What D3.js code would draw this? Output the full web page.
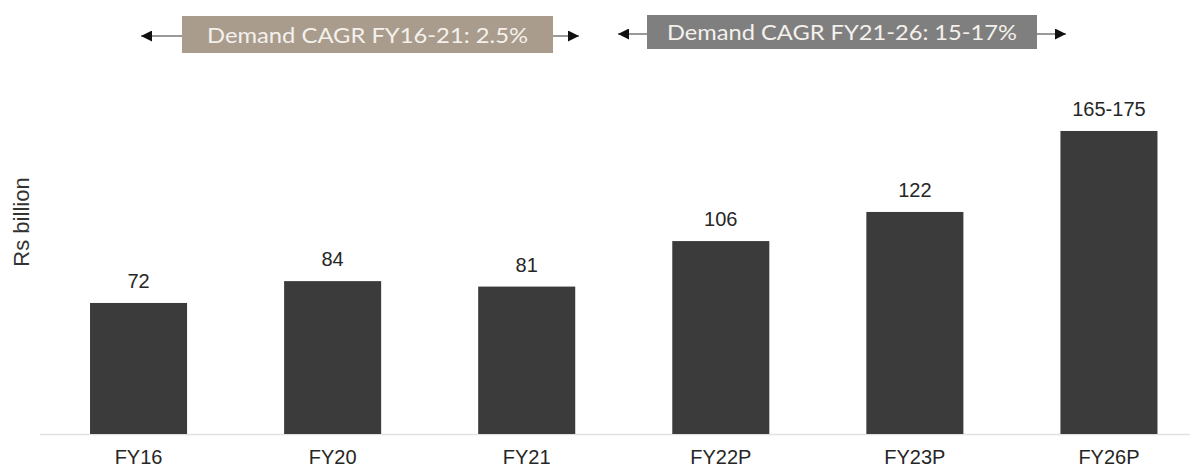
<!DOCTYPE html>
<html>
<head>
<meta charset="utf-8">
<script src="https://cdn.jsdelivr.net/npm/d3@7"></script>
<style>
  body { margin: 0; background: #fff; }
  svg { display: block; }
</style>
</head>
<body>
<svg id="chart" width="1190" height="467"></svg>
<script>
// data
const categories = ['FY16', 'FY20', 'FY21', 'FY22P', 'FY23P', 'FY26P']
const values = [72, 84, 81, 106, 122, 166.5]
const valueLabels = ['72', '84', '81', '106', '122', '165-175']
const bannerTexts = ['Demand CAGR FY16-21: 2.5%', 'Demand CAGR FY21-26: 15-17%']

const svg = d3.select('#chart')

const x = d3.scaleBand()
    .domain(categories)
    .range([41.5, 1206])
    .paddingInner(0.5)
    .paddingOuter(0.25)

const y = d3.scaleLinear()
    .domain([0, 200])
    .range([434, 434 - 364])

// baseline
svg.append('line')
    .attr('x1', 40).attr('x2', 1190)
    .attr('y1', y(0) + 0.5).attr('y2', y(0) + 0.5)
    .attr('stroke', '#e2e2e2').attr('stroke-width', 1.5)

// bars
svg.append('g')
    .selectAll('rect')
    .data(values)
    .join('rect')
    .attr('x', (d, i) => x(categories[i]))
    .attr('y', d => y(d))
    .attr('width', x.bandwidth())
    .attr('height', d => y(0) - y(d))
    .attr('fill', '#3b3b3b')

// value labels
svg.append('g')
    .selectAll('text')
    .data(values)
    .join('text')
    .attr('x', (d, i) => x(categories[i]) + x.bandwidth() / 2)
    .attr('y', d => y(d) - 15)
    .attr('text-anchor', 'middle')
    .attr('font-family', 'Liberation Sans, Arial, sans-serif')
    .attr('font-size', 20)
    .attr('fill', '#262626')
    .text((d, i) => valueLabels[i])

// category axis
const xAxis = svg.append('g')
    .attr('transform', `translate(0,${y(0)})`)
    .call(d3.axisBottom(x).tickSize(0).tickPadding(16))
xAxis.select('.domain').remove()
xAxis.selectAll('text')
    .attr('font-family', 'Liberation Sans, Arial, sans-serif')
    .attr('font-size', 20)
    .attr('fill', '#262626')

// y title
svg.append('text')
    .attr('transform', `translate(29,222) rotate(-90)`)
    .attr('text-anchor', 'middle')
    .attr('font-family', 'Liberation Sans, Arial, sans-serif')
    .attr('font-size', 22)
    .attr('fill', '#333')
    .text('Rs billion')

// CAGR banners with arrows
svg.append('defs').append('marker')
    .attr('id', 'head')
    .attr('viewBox', '0 0 10 10')
    .attr('refX', 10).attr('refY', 5)
    .attr('markerWidth', 11).attr('markerHeight', 11)
    .attr('markerUnits', 'userSpaceOnUse')
    .attr('orient', 'auto-start-reverse')
    .append('path')
    .attr('d', 'M0,0 L10,5 L0,10 Z')
    .attr('fill', '#111')

const banners = [
    { box: [182, 16, 371, 37], arrow: [141, 579], cy: 36, fill: '#a99c8c', tw: 321 },
    { box: [647, 15, 390, 34], arrow: [618, 1066], cy: 34, fill: '#7f7f7f', tw: 350 }
]

banners.forEach((b, i) => {
    const g = svg.append('g')
    g.append('line')
        .attr('x1', b.arrow[0]).attr('x2', b.box[0])
        .attr('y1', b.cy).attr('y2', b.cy)
        .attr('stroke', '#777').attr('stroke-width', 1.5)
        .attr('marker-start', 'url(#head)')
    g.append('line')
        .attr('x1', b.box[0] + b.box[2]).attr('x2', b.arrow[1])
        .attr('y1', b.cy).attr('y2', b.cy)
        .attr('stroke', '#777').attr('stroke-width', 1.5)
        .attr('marker-end', 'url(#head)')
    g.append('rect')
        .attr('x', b.box[0]).attr('y', b.box[1])
        .attr('width', b.box[2]).attr('height', b.box[3])
        .attr('fill', b.fill)
    g.append('text')
        .attr('x', b.box[0] + b.box[2] / 2)
        .attr('y', b.box[1] + b.box[3] / 2 + 8)
        .attr('text-anchor', 'middle')
        .attr('font-family', 'Lato, sans-serif')
        .attr('font-size', 22)
        .attr('textLength', b.tw)
        .attr('lengthAdjust', 'spacingAndGlyphs')
        .attr('fill', '#f4f1ec')
        .text(bannerTexts[i])
})
</script>
</body>
</html>
